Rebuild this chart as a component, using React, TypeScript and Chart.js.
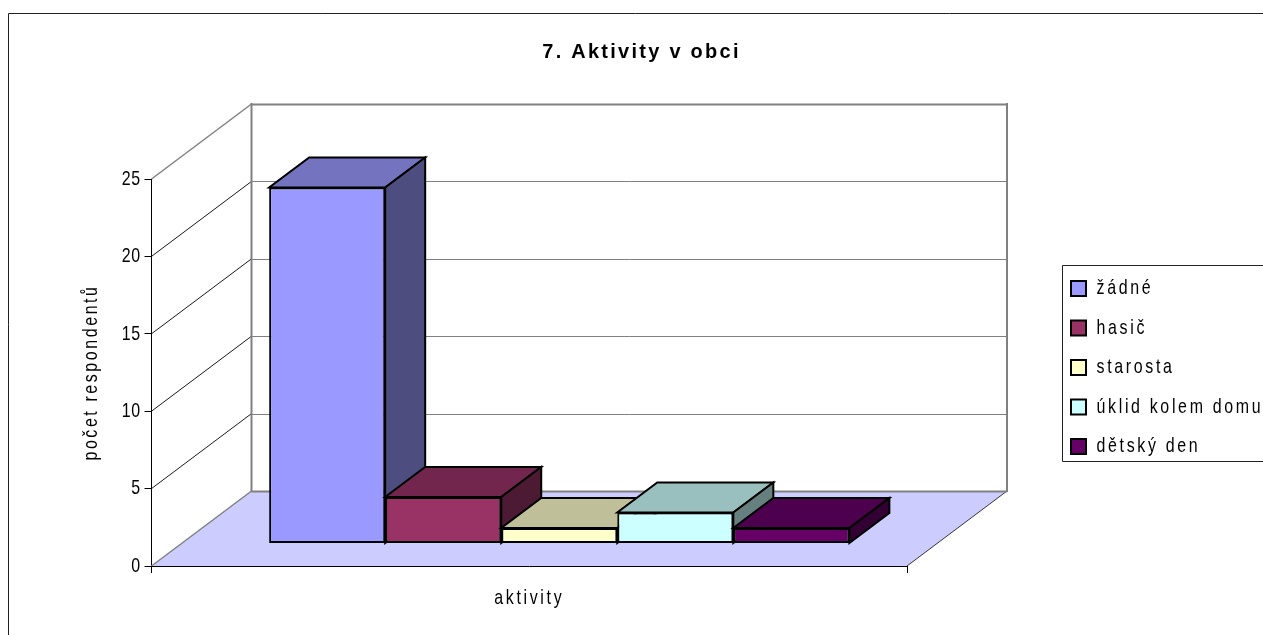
import React, { useEffect, useRef } from "react";
import { Chart, registerables } from "chart.js";

Chart.register(...registerables);

const categories = [""];
const seriesNames = ["žádné", "hasič", "starosta", "úklid kolem domu", "dětský den"];
const seriesValues = [23, 3, 1, 2, 1];
const seriesColors = ["#9999FF", "#993366", "#FFFFCC", "#CCFFFF", "#660066"];
const titleText = "7. Aktivity v obci";
const yTitleText = "počet respondentů";
const xTitleText = "aktivity";

const FONT = "'Liberation Sans', sans-serif";
const TEXT_NARROW = 0.76;
const TITLE_NARROW = 0.95;
const DEPTH_X = 100;
const DEPTH_Y = -75;
const FRONT = 0.3;
const BAR_DEPTH = 0.4;
const GRAY = "#808080";

function shade(hex: string, f: number) {
  const n = parseInt(hex.slice(1), 16);
  const c = [(n >> 16) & 255, (n >> 8) & 255, n & 255].map((v) => Math.round(v * f));
  return `rgb(${c[0]},${c[1]},${c[2]})`;
}

function line(ctx: any, x1: number, y1: number, x2: number, y2: number, color: string, width: number) {
  ctx.beginPath();
  ctx.moveTo(x1, y1);
  ctx.lineTo(x2, y2);
  ctx.strokeStyle = color;
  ctx.lineWidth = width;
  ctx.stroke();
}

function poly(ctx: any, pts: number[][], fill: string, stroke: string, width: number) {
  ctx.beginPath();
  pts.forEach((p, i) => (i ? ctx.lineTo(p[0], p[1]) : ctx.moveTo(p[0], p[1])));
  ctx.closePath();
  ctx.fillStyle = fill;
  ctx.fill();
  if (width > 0) {
    ctx.strokeStyle = stroke;
    ctx.lineWidth = width;
    ctx.lineJoin = "miter";
    ctx.stroke();
  }
}

function withSpacing(obj: any, method: string, spacing: string, narrow = TEXT_NARROW) {
  if (!obj || typeof obj[method] !== "function" || obj["__w" + method]) return;
  const orig = obj[method];
  obj["__w" + method] = true;
  obj[method] = function (...args: any[]) {
    const ctx = this.ctx;
    const prev = ctx.letterSpacing;
    ctx.letterSpacing = spacing;
    ctx.__narrow = narrow;
    const r = orig.apply(this, args);
    ctx.letterSpacing = prev;
    ctx.__narrow = TEXT_NARROW;
    return r;
  };
}

const plot3d = {
  id: "plot3d",
  beforeInit(chart: any) {
    const ctx = chart.ctx;
    ctx.__narrow = TEXT_NARROW;
    const fillText = ctx.fillText.bind(ctx);
    ctx.fillText = (text: string, x: number, y: number, maxWidth?: number) => {
      const k = ctx.__narrow;
      ctx.save();
      ctx.translate(x, y);
      ctx.scale(k, 1);
      if (maxWidth === undefined) fillText(text, 0, 0);
      else fillText(text, 0, 0, maxWidth / k);
      ctx.restore();
    };
    const legend = chart.legend;
    if (legend && !legend.__fit) {
      legend.__fit = true;
      const fit = legend.fit;
      legend.fit = function () {
        fit.call(this);
        this.width = 356;
      };
    }
  },
  afterLayout(chart: any) {
    const lg = chart.legend;
    const pad = lg.options.labels.padding;
    lg.left = 1071 - pad;
    lg.right = 1263;
    lg.width = 1263 - lg.left;
    lg.top = 278 - pad;
    lg.bottom = 635;
    lg.height = lg.bottom - lg.top;
    withSpacing(lg, "draw", "3.5px");
    const t = chart.titleBlock;
    t.left += 10;
    t.right += 10;
    withSpacing(t, "draw", "2.4px", TITLE_NARROW);
    withSpacing(chart.scales.x, "drawTitle", "3.5px");
    withSpacing(chart.scales.y, "drawTitle", "3.4px");
    withSpacing(chart.scales.y, "drawLabels", "0.6px");
  },
  beforeDraw(chart: any) {
    const ctx = chart.ctx;
    ctx.save();
    ctx.fillStyle = "#fff";
    ctx.fillRect(0, 0, 1263, 635);
    ctx.beginPath();
    ctx.moveTo(1263, 13.5);
    ctx.lineTo(8.5, 13.5);
    ctx.lineTo(8.5, 635);
    ctx.strokeStyle = "#222";
    ctx.lineWidth = 1;
    ctx.stroke();
    ctx.beginPath();
    ctx.moveTo(1263, 265.5);
    ctx.lineTo(1062.5, 265.5);
    ctx.lineTo(1062.5, 461.5);
    ctx.lineTo(1263, 461.5);
    ctx.stroke();
    ctx.restore();
  },
  beforeDatasetsDraw(chart: any) {
    const ctx = chart.ctx;
    const ys = chart.scales.y;
    const l = chart.chartArea.left;
    const r = chart.chartArea.right;
    const y0 = ys.getPixelForValue(0);
    const yMax = ys.getPixelForValue(ys.max);
    ctx.save();
    poly(ctx, [[l, y0], [r, y0], [r + DEPTH_X, y0 + DEPTH_Y], [l + DEPTH_X, y0 + DEPTH_Y]], "#CCCCFF", "#000", 0);
    line(ctx, r, y0, r + DEPTH_X, y0 + DEPTH_Y, "#222", 0.9);
    line(ctx, l, y0, l + DEPTH_X, y0 + DEPTH_Y, GRAY, 1.5);
    ys.ticks.forEach((t: any) => {
      const y = ys.getPixelForValue(t.value);
      const edge = t.value === ys.max;
      if (t.value !== 0) line(ctx, l, y, l + DEPTH_X, y + DEPTH_Y, edge ? GRAY : "#000", edge ? 1.5 : 0.9);
      const yb = Math.round(y + DEPTH_Y) + 0.5;
      line(ctx, l + DEPTH_X, yb, r + DEPTH_X, yb, GRAY, t.value === 0 || edge ? 2 : 1);
    });
    line(ctx, l + DEPTH_X, yMax + DEPTH_Y - 1, l + DEPTH_X, y0 + DEPTH_Y + 1, GRAY, 2);
    line(ctx, r + DEPTH_X, yMax + DEPTH_Y - 1, r + DEPTH_X, y0 + DEPTH_Y + 1, GRAY, 2);
    ctx.restore();
    // Painter's order for the 3D boxes: left to right, so each box overlaps the side of the one before it.
    chart.getSortedVisibleDatasetMetas().forEach((meta: any) => chart._drawDataset(meta));
    return false;
  },
  beforeDatasetDraw(chart: any) {
    const ctx = chart.ctx;
    ctx.save();
    ctx.translate(DEPTH_X * FRONT, DEPTH_Y * FRONT);
  },
  afterDatasetDraw(chart: any, args: any) {
    const ctx = chart.ctx;
    const color = seriesColors[args.index];
    const dx = DEPTH_X * BAR_DEPTH;
    const dy = DEPTH_Y * BAR_DEPTH;
    args.meta.data.forEach((b: any) => {
      const left = b.x - b.width / 2;
      const right = b.x + b.width / 2;
      poly(ctx, [[left, b.y], [right, b.y], [right + dx, b.y + dy], [left + dx, b.y + dy]], shade(color, 0.75), "#000", 2);
      poly(ctx, [[right, b.y], [right + dx, b.y + dy], [right + dx, b.base + dy], [right, b.base]], shade(color, 0.5), "#000", 2);
    });
    ctx.restore();
  },
};

export default function App() {
  const ref = useRef<HTMLCanvasElement | null>(null);
  useEffect(() => {
    const chart = new Chart(ref.current as HTMLCanvasElement, {
      type: "bar",
      data: {
        labels: categories,
        datasets: seriesNames.map((name, i) => ({
          label: name,
          data: [seriesValues[i]],
          backgroundColor: seriesColors[i],
          borderColor: "#000",
          borderWidth: 2,
          borderSkipped: false,
          clip: false as any,
          barPercentage: 1,
          categoryPercentage: 0.768,
        })),
      },
      options: {
        animation: false,
        responsive: false,
        devicePixelRatio: 1,
        layout: { padding: 0 },
        plugins: {
          tooltip: { enabled: false },
          title: {
            display: true,
            text: titleText,
            color: "#000",
            font: { family: FONT, size: 21, weight: "bold", lineHeight: 1.2 },
            padding: { top: 39.4, bottom: 114.4 },
          },
          legend: {
            position: "right",
            align: "start",
            labels: {
              color: "#000",
              boxWidth: 15,
              boxHeight: 15,
              padding: 18.5,
              font: { family: FONT, size: 21, lineHeight: 1.2 },
            },
          },
        },
        scales: {
          x: {
            offset: true,
            afterFit: (s: any) => {
              s.height = 69;
            },
            ticks: { display: false },
            grid: { drawOnChartArea: false, drawTicks: true, tickLength: 7, color: "#000", offset: true },
            border: { display: true, color: "#000", width: 1 },
            title: {
              display: true,
              text: xTitleText,
              color: "#000",
              font: { family: FONT, size: 21, lineHeight: 1.2 },
              padding: { top: 0, bottom: 24 },
            },
          },
          y: {
            min: 0,
            max: 25,
            afterFit: (s: any) => {
              s.width = 151.5;
            },
            ticks: {
              stepSize: 5,
              color: "#000",
              padding: 4,
              font: { family: FONT, size: 21, lineHeight: 1.2 },
            },
            grid: { drawOnChartArea: false, drawTicks: true, tickLength: 7, color: "#000" },
            border: { display: true, color: "#000", width: 1 },
            title: {
              display: true,
              text: yTitleText,
              color: "#000",
              font: { family: FONT, size: 21, lineHeight: 1.2 },
              padding: { top: 79, bottom: 0 },
            },
          },
        },
      },
      plugins: [plot3d],
    } as any);
    return () => chart.destroy();
  }, []);
  return (
    <canvas
      ref={ref}
      width={1263}
      height={635}
      style={{ position: "absolute", left: 0, top: 0, width: 1263, height: 635, display: "block" }}
    />
  );
}
